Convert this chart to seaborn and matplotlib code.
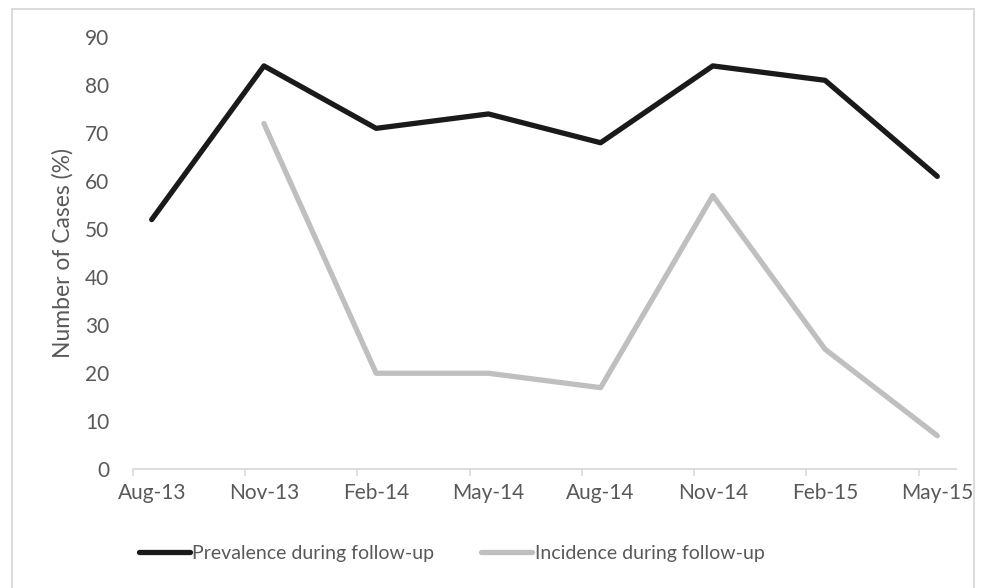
import matplotlib
matplotlib.use("Agg")
import matplotlib.pyplot as plt
from matplotlib.patches import Rectangle
from matplotlib.lines import Line2D
import numpy as np
import pandas as pd
import seaborn as sns

# ---- data ----
months = ["Aug-13", "Nov-13", "Feb-14", "May-14", "Aug-14", "Nov-14", "Feb-15", "May-15"]
prevalence = [52, 84, 71, 74, 68, 84, 81, 61]
incidence = [None, 72, 20, 20, 17, 57, 25, 7]
series_names = ["Prevalence during follow-up", "Incidence during follow-up"]
series_colors = ["#1a1a1a", "#bfbfbf"]

# month offset of each survey (3-month steps, plotted mid-month on a date-like axis)
month_index = [3 * i for i in range(len(months))]

rows = []
for name, vals in zip(series_names, [prevalence, incidence]):
    for m, v in zip(month_index, vals):
        if v is not None:
            rows.append({"x": m + 0.5, "value": v, "series": name})
df = pd.DataFrame(rows)

sns.set_style("white")
plt.rcParams["font.family"] = ["Lato", "DejaVu Sans"]
text_color = "#595959"

fig = plt.figure(figsize=(9.85, 5.88), dpi=100)
W, H = 985, 588
x0, x1 = 133, 956
y0, y1 = 37.1, 469.3
ax = fig.add_axes([x0 / W, 1 - y1 / H, (x1 - x0) / W, (y1 - y0) / H])

sns.lineplot(data=df, x="x", y="value", hue="series", hue_order=series_names,
             palette=series_colors, linewidth=3.8, ax=ax, legend=False,
             solid_capstyle="round", solid_joinstyle="round")

ax.set_xlim(0, 22)
ax.set_ylim(0, 90)
ax.set_yticks(np.arange(0, 91, 10))
ax.set_xticks([m + 0.5 for m in month_index])
ax.set_xticklabels(months)
ax.set_xticks(month_index, minor=True)
ax.tick_params(axis="x", which="major", length=0, pad=10, labelsize=15, labelcolor=text_color)
ax.tick_params(axis="x", which="minor", length=5, width=1.2, color="#d9d9d9", direction="out", bottom=True)
ax.tick_params(axis="y", length=0, pad=17, labelsize=15, labelcolor=text_color)
ax.set_xlabel("")
ax.set_ylabel("Number of Cases (%)", fontsize=16.5, color=text_color)
ax.yaxis.set_label_coords((74 - x0) / (x1 - x0), 0.5)

for side in ["top", "right", "left"]:
    ax.spines[side].set_visible(False)
ax.spines["bottom"].set_color("#d9d9d9")
ax.spines["bottom"].set_linewidth(1.3)
ax.grid(False)

# legend
handles = [Line2D([0], [0], color=c, lw=3.8, solid_capstyle="round") for c in series_colors]
leg = fig.legend(handles, series_names, loc="center left",
                 bbox_to_anchor=(139 / W, 1 - 553 / H), ncol=2, frameon=False,
                 fontsize=14, handlelength=2.6, handletextpad=0.15, columnspacing=2.4,
                 borderpad=0, borderaxespad=0)
for t in leg.get_texts():
    t.set_color(text_color)

# chart border
fig.patches.append(Rectangle((12 / W, -0.01), (974 - 12) / W, 1 - 9 / H + 0.01,
                             transform=fig.transFigure, fill=False,
                             edgecolor="#d9d9d9", linewidth=1.3))

fig.savefig("out.png", dpi=100)
